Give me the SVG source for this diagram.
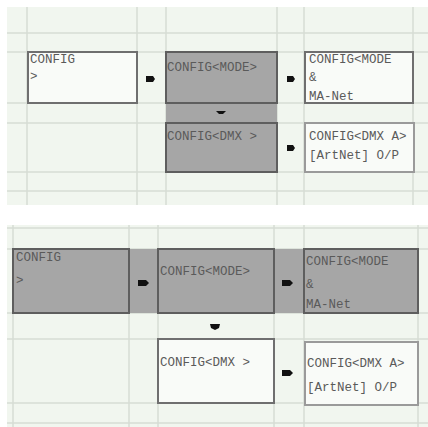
<svg xmlns="http://www.w3.org/2000/svg" width="428" height="427" viewBox="0 0 428 427">
<style>
.bg{fill:#f1f6ef}
.grid line{stroke:#d6ddd4;stroke-width:1.5}
.white{fill:#f9fbf8;stroke:#6f6f6f;stroke-width:2}
.whitel{fill:#f9fbf8;stroke:#9a9a9a;stroke-width:2}
.gray{fill:#a6a6a6;stroke:#5e5e5e;stroke-width:2}
.gfill{fill:#a6a6a6}
text{font-family:"Liberation Mono","DejaVu Sans Mono",monospace;font-size:12.5px;fill:#5a5a5a}
.arr{fill:#111}
</style>
<rect width="428" height="427" fill="#ffffff"/>
<rect class="bg" x="7" y="7" width="421" height="198"/>
<rect class="bg" x="7" y="225" width="421" height="202"/>
<g class="grid">
<line x1="27" y1="7" x2="27" y2="205"/><line x1="137" y1="7" x2="137" y2="205"/>
<line x1="166" y1="7" x2="166" y2="205"/><line x1="277" y1="7" x2="277" y2="205"/>
<line x1="304" y1="7" x2="304" y2="205"/><line x1="413" y1="7" x2="413" y2="205"/>
<line x1="7" y1="33" x2="428" y2="33"/><line x1="7" y1="52" x2="428" y2="52"/>
<line x1="7" y1="103" x2="428" y2="103"/><line x1="7" y1="123" x2="428" y2="123"/>
<line x1="7" y1="172" x2="428" y2="172"/><line x1="7" y1="191" x2="428" y2="191"/>
<line x1="13" y1="225" x2="13" y2="427"/><line x1="129" y1="225" x2="129" y2="427"/>
<line x1="158" y1="225" x2="158" y2="427"/><line x1="274" y1="225" x2="274" y2="427"/>
<line x1="304" y1="225" x2="304" y2="427"/><line x1="418" y1="225" x2="418" y2="427"/>
<line x1="7" y1="228" x2="428" y2="228"/><line x1="7" y1="249" x2="428" y2="249"/>
<line x1="7" y1="313" x2="428" y2="313"/><line x1="7" y1="339" x2="428" y2="339"/>
<line x1="7" y1="403" x2="428" y2="403"/><line x1="7" y1="423" x2="428" y2="423"/>
</g>
<!-- top panel -->
<rect class="gfill" x="166" y="103" width="111" height="20"/>
<g id="t-config">
<rect class="white" x="28" y="52" width="109" height="51"/>
<text x="30" y="63">CONFIG</text><text x="30" y="80">&gt;</text>
</g>
<g id="t-mode">
<rect class="gray" x="166" y="52" width="111" height="51"/>
<text x="167" y="71">CONFIG&lt;MODE&gt;</text>
</g>
<g id="t-mode-mnet">
<rect class="white" x="305" y="52" width="108" height="51"/>
<text x="309" y="63">CONFIG&lt;MODE</text><text x="309" y="81">&amp;</text><text x="309" y="100">MA-Net</text>
</g>
<g id="t-dmx">
<rect class="gray" x="166" y="123" width="111" height="49"/>
<text x="167" y="140">CONFIG&lt;DMX &gt;</text>
</g>
<g id="t-dmx-artnet">
<rect class="whitel" x="305" y="123" width="109" height="49"/>
<text x="309" y="140">CONFIG&lt;DMX A&gt;</text><text x="309" y="159">[ArtNet] O/P</text>
</g>
<!-- bottom panel -->
<rect class="gfill" x="13" y="249" width="405" height="64"/>
<g id="b-config">
<rect class="gray" x="13" y="249" width="116" height="64"/>
<text x="16" y="261">CONFIG</text><text x="16" y="284">&gt;</text>
</g>
<g id="b-mode">
<rect class="gray" x="158" y="249" width="116" height="64"/>
<text x="160" y="275">CONFIG&lt;MODE&gt;</text>
</g>
<g id="b-mode-mnet">
<rect class="gray" x="304" y="249" width="114" height="64"/>
<text x="306" y="265">CONFIG&lt;MODE</text><text x="306" y="288">&amp;</text><text x="306" y="308">MA-Net</text>
</g>
<g id="b-dmx">
<rect class="white" x="158" y="339" width="116" height="64"/>
<text x="160" y="366">CONFIG&lt;DMX &gt;</text>
</g>
<g id="b-dmx-artnet">
<rect class="whitel" x="305" y="342" width="113" height="63"/>
<text x="307" y="367">CONFIG&lt;DMX A&gt;</text><text x="307" y="391">[ArtNet] O/P</text>
</g>
<g id="connectors">
<polygon class="arr" points="146,76 153,76 155,79 153,82 146,82"/>
<polygon class="arr" points="287,76 293,76 295,79 293,82 287,82"/>
<polygon class="arr" points="287,145 293,145 295,148 293,151 287,151"/>
<polygon class="arr" points="216,111 226,111 223,114 219,114"/>
<polygon class="arr" points="138,280 146,280 149,283 146,286 138,286"/>
<polygon class="arr" points="282,280 290,280 293,283 290,286 282,286"/>
<polygon class="arr" points="282,370 290,370 293,373 290,376 282,376"/>
<polygon class="arr" points="210,324 220,324 219,328 215,330 211,328"/>
</g>
</svg>
